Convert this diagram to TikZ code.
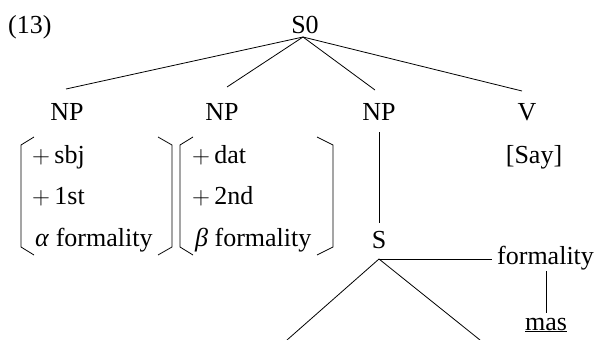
\documentclass[tikz,border=0pt]{standalone}
\usepackage{fontspec}
\setmainfont{Liberation Serif}
\begin{document}
\begin{tikzpicture}[x=1pt,y=-1pt,
  lbl/.style={anchor=base, inner sep=0pt, font=\fontsize{26}{30}\selectfont},
  lbll/.style={lbl, anchor=base west},
  edge/.style={line width=0.8pt},
  brk/.style={line width=0.8pt}]
\useasboundingbox (0,0) rectangle (600,340);
% labels
\node[lbll] (ex) at (8,34) {(13)};
\node[lbl] (s0) at (305,33) {S0};
\node[lbl] (np1) at (67,120) {NP};
\node[lbl] (np2) at (222,120) {NP};
\node[lbl] (np3) at (379,120) {NP};
\node[lbl] (v) at (527,120) {V};
\node[lbl] (say) at (534,163) {[Say]};
% feature matrix 1
\node[lbll] (f1a) at (32,163) {\(+\)\,sbj};
\node[lbll] (f1b) at (32,204) {\(+\)\,1st};
\node[lbll] (f1c) at (35,246) {\textit{α} formality};
% feature matrix 2
\node[lbll] (f2a) at (192,163) {\(+\)\,dat};
\node[lbll] (f2b) at (192,204) {\(+\)\,2nd};
\node[lbll] (f2c) at (195,246) {\textit{β} formality};
% lower tree
\node[lbl] (s) at (379,248) {S};
\node[lbll] (form) at (497,264) {formality};
\node[lbl] (mas) at (546,330) {\underline{mas}};
% connector points
\coordinate (s0a) at (303,37);
\coordinate (np1t) at (66,89);
\coordinate (np2t) at (227,87);
\coordinate (np3t) at (375,90);
\coordinate (vt) at (522,91);
\coordinate (np3b) at (379,132);
\coordinate (st) at (379,223);
\coordinate (sa) at (379,259);
\coordinate (forml) at (492,259);
\coordinate (formb) at (546,271);
\coordinate (mast) at (546,313);
\coordinate (sl) at (287,340);
\coordinate (sr) at (480,340);
% connectors
\draw[edge] (s0a) -- (np1t);
\draw[edge] (s0a) -- (np2t);
\draw[edge] (s0a) -- (np3t);
\draw[edge] (s0a) -- (vt);
\draw[edge] (np3b) -- (st);
\draw[edge] (sa) -- (forml);
\draw[edge] (formb) -- (mast);
\draw[edge] (sa) -- (sl);
\draw[edge] (sa) -- (sr);
% brackets
\draw[brk] (34,137) -- (21,145) -- (21,247) -- (34,255);
\draw[brk] (158,137) -- (172,145) -- (172,247) -- (158,255);
\draw[brk] (193,137) -- (180,145) -- (180,247) -- (193,255);
\draw[brk] (317,137) -- (333,145) -- (333,247) -- (317,255);
\end{tikzpicture}
\end{document}
